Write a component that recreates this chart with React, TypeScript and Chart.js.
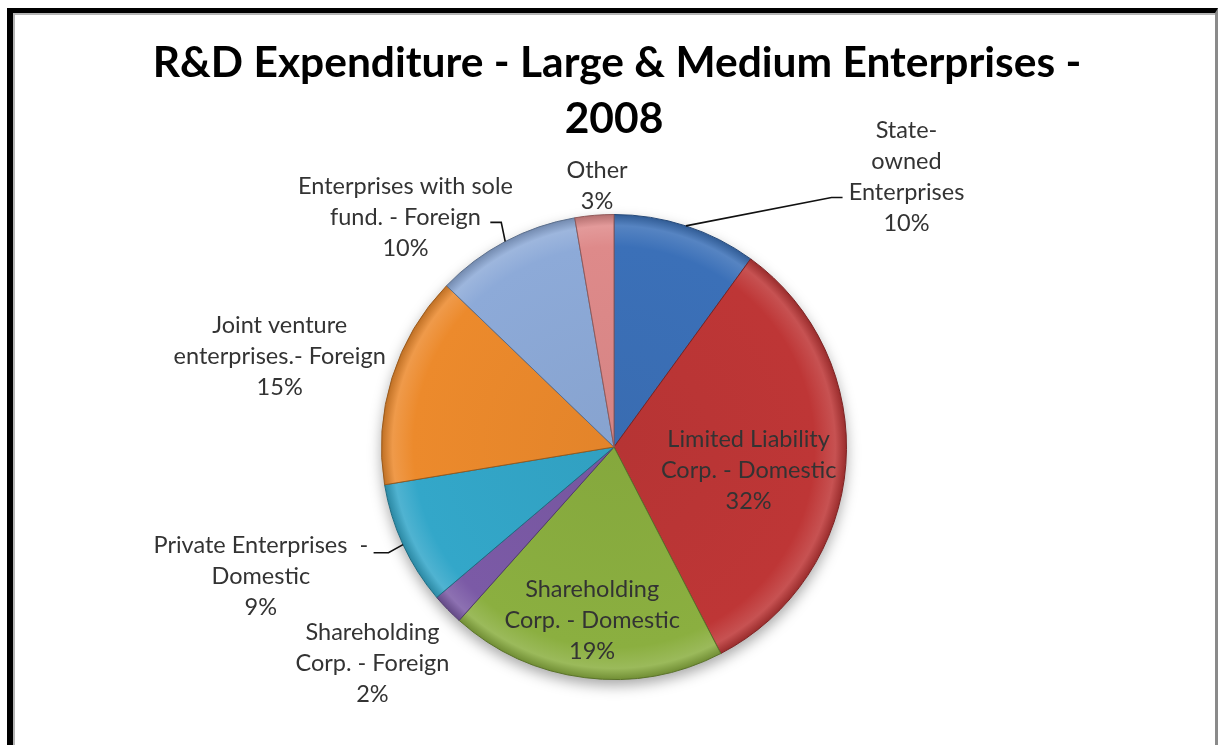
import { useEffect, useRef } from "react";
import { Chart, registerables } from "chart.js";

Chart.register(...registerables);

const titleLines = ["R&D Expenditure - Large & Medium Enterprises -", "2008"];

const categories = [
  "State-owned Enterprises",
  "Limited Liability Corp. - Domestic",
  "Shareholding Corp. - Domestic",
  "Shareholding Corp. - Foreign",
  "Private Enterprises - Domestic",
  "Joint venture enterprises.- Foreign",
  "Enterprises with sole fund. - Foreign",
  "Other",
];

// share of R&D expenditure, percent
const values = [10.0, 32.4, 19.2, 2.2, 8.6, 14.8, 10.1, 2.7];

// label text as it is wrapped in the picture
const labelLines = [
  ["State-", "owned", "Enterprises"],
  ["Limited Liability", "Corp. - Domestic"],
  ["Shareholding", "Corp. - Domestic"],
  ["Shareholding", "Corp. - Foreign"],
  ["Private Enterprises  -", "Domestic"],
  ["Joint venture", "enterprises.- Foreign"],
  ["Enterprises with sole", "fund. - Foreign"],
  ["Other"],
];

const sliceColors = [
  "#3B70B8",
  "#BE3636",
  "#8BAF40",
  "#7B5AA6",
  "#33A7C9",
  "#EC8A2C",
  "#8DAAD8",
  "#DE8A8A",
];

// label placement, in units of the pie radius from the pie centre
const labelPlacement = [
  { x: 1.258, y: -1.163, leader: [[0.9356, -1.073], [0.983, -1.073]] },
  { x: 0.579, y: 0.099 },
  { x: -0.094, y: 0.747 },
  { x: -1.039, y: 0.931 },
  { x: -1.519, y: 0.558, leader: [[-0.97, 0.455], [-1.034, 0.455]] },
  { x: -1.438, y: -0.391 },
  { x: -0.897, y: -0.987, leader: [[-0.485, -0.966], [-0.532, -0.966]] },
  { x: -0.073, y: -1.122 },
];

function shade(hex: string, amt: number): string {
  const n = parseInt(hex.slice(1), 16);
  let r = (n >> 16) & 255, g = (n >> 8) & 255, b = n & 255;
  const f = (c: number) =>
    Math.round(amt >= 0 ? c + (255 - c) * amt : c * (1 + amt));
  r = f(r); g = f(g); b = f(b);
  return `rgb(${r},${g},${b})`;
}

const labelFont = "23.5px Lato";
const labelColor = "#333333";
const lineHeight = 31;

const shadowPlugin = {
  id: "pieShadow",
  beforeDatasetsDraw(chart: any) {
    const arc = chart.getDatasetMeta(0).data[0];
    if (!arc) return;
    const { x, y, outerRadius } = arc.getProps(["x", "y", "outerRadius"], true);
    const ctx = chart.ctx;
    ctx.save();
    ctx.beginPath();
    ctx.arc(x, y, outerRadius, 0, Math.PI * 2);
    ctx.fillStyle = "#ffffff";
    ctx.shadowColor = "rgba(0,0,0,0.35)";
    ctx.shadowBlur = 14;
    ctx.shadowOffsetY = 6;
    ctx.fill();
    ctx.restore();
  },
};

const labelPlugin = {
  id: "pieLabels",
  afterDatasetsDraw(chart: any) {
    const ctx = chart.ctx;
    const meta = chart.getDatasetMeta(0);
    const data = chart.data.datasets[0].data as number[];
    const total = data.reduce((a, b) => a + b, 0);
    ctx.save();
    meta.data.forEach((el: any, i: number) => {
      const { x, y, startAngle, endAngle, outerRadius } = el.getProps(
        ["x", "y", "startAngle", "endAngle", "outerRadius"],
        true
      );
      const R = outerRadius;
      const p = labelPlacement[i];
      const mid = (startAngle + endAngle) / 2;
      if (p.leader) {
        ctx.beginPath();
        ctx.moveTo(x + Math.cos(mid) * R, y + Math.sin(mid) * R);
        p.leader.forEach((pt: number[]) => ctx.lineTo(x + pt[0] * R, y + pt[1] * R));
        ctx.strokeStyle = "#111";
        ctx.lineWidth = 1.6;
        ctx.stroke();
      }
      const lines = [...labelLines[i], Math.round((data[i] / total) * 100) + "%"];
      const cx = x + p.x * R;
      const cy = y + p.y * R;
      const top = cy - ((lines.length - 1) * lineHeight) / 2;
      ctx.font = labelFont;
      ctx.fillStyle = labelColor;
      ctx.textAlign = "center";
      ctx.textBaseline = "middle";
      lines.forEach((ln, k) => ctx.fillText(ln, cx, top + k * lineHeight));
    });
    ctx.restore();
  },
};

const titlePlugin = {
  id: "twoLineTitle",
  afterDraw(chart: any) {
    const ctx = chart.ctx;
    const cx = (chart.chartArea.left + chart.chartArea.right) / 2;
    ctx.save();
    ctx.font = "bold 42.5px Lato";
    ctx.fillStyle = "#000";
    ctx.textAlign = "center";
    ctx.textBaseline = "middle";
    ctx.fillText(titleLines[0], cx + 3, 63);
    ctx.fillText(titleLines[1], cx, 119);
    ctx.restore();
  },
};

export default function App() {
  const ref = useRef<HTMLCanvasElement | null>(null);

  useEffect(() => {
    if (!ref.current) return;
    const chart = new Chart(ref.current, {
      type: "pie",
      data: {
        labels: categories,
        datasets: [
          {
            data: values,
            backgroundColor: (c: any) => {
              const base = sliceColors[c.dataIndex];
              const chart = c.chart;
              const a = chart.chartArea;
              if (!a) return base;
              const cx = (a.left + a.right) / 2;
              const cy = (a.top + a.bottom) / 2;
              const r = Math.min(a.right - a.left, a.bottom - a.top) / 2;
              const g = chart.ctx.createRadialGradient(cx, cy, 0, cx, cy, r);
              g.addColorStop(0, shade(base, -0.04));
              g.addColorStop(0.86, base);
              g.addColorStop(0.95, shade(base, 0.14));
              g.addColorStop(1, shade(base, -0.2));
              return g;
            },
            borderColor: sliceColors.map((c) => shade(c, -0.35)),
            borderWidth: 1,
          },
        ],
      },
      options: {
        responsive: false,
        animation: false,
        layout: { padding: { left: 381, right: 371, top: 214, bottom: 65 } },
        plugins: {
          legend: { display: false },
          title: { display: false },
          tooltip: { enabled: false },
        },
      },
      plugins: [shadowPlugin, labelPlugin, titlePlugin],
    });
    return () => chart.destroy();
  }, []);

  return (
    <>
      <canvas
        ref={ref}
        width={1218}
        height={745}
        style={{ position: "fixed", left: 0, top: 0, width: 1218, height: 745 }}
      />
      <div
        style={{
          position: "fixed",
          left: 7,
          top: 8,
          width: 1211,
          height: 800,
          boxSizing: "border-box",
          borderLeft: "6px solid #000",
          borderTop: "5px solid #000",
          borderRight: "3px solid #8a8a8a",
          pointerEvents: "none",
        }}
      />
      <div
        style={{
          position: "fixed",
          left: 13,
          top: 13,
          width: 1202,
          height: 800,
          boxSizing: "border-box",
          borderLeft: "2px solid #b5b5b5",
          borderTop: "2px solid #b5b5b5",
          pointerEvents: "none",
        }}
      />
    </>
  );
}
